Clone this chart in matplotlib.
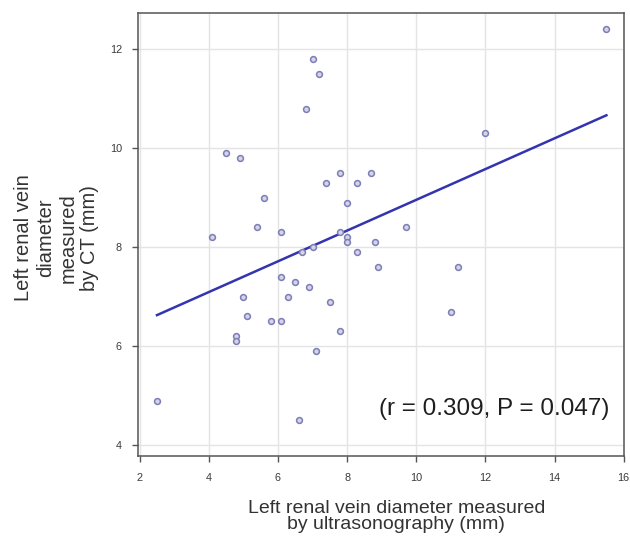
import numpy as np
import matplotlib.pyplot as plt

plt.rcParams['font.family'] = ['Liberation Sans', 'DejaVu Sans']

# Dane (mm)
us_diam = [7.0, 7.2, 6.8, 4.5, 4.9, 7.8, 8.7, 7.4, 8.3, 5.6, 8.0, 5.4, 6.1, 4.1,
           7.8, 8.0, 8.0, 8.8, 8.3, 8.9, 6.7, 7.0, 6.1, 6.5, 6.9, 5.0, 6.3, 5.1,
           7.5, 5.8, 6.1, 4.8, 4.8, 7.8, 7.1, 2.5, 6.6, 15.5, 12.0, 9.7, 11.2, 11.0]
ct_diam = [11.8, 11.5, 10.8, 9.9, 9.8, 9.5, 9.5, 9.3, 9.3, 9.0, 8.9, 8.4, 8.3, 8.2,
           8.3, 8.2, 8.1, 8.1, 7.9, 7.6, 7.9, 8.0, 7.4, 7.3, 7.2, 7.0, 7.0, 6.6,
           6.9, 6.5, 6.5, 6.2, 6.1, 6.3, 5.9, 4.9, 4.5, 12.4, 10.3, 8.4, 7.6, 6.7]
x_ticks = [2, 4, 6, 8, 10, 12, 14, 16]
y_ticks = [4, 6, 8, 10, 12]
stat_text = '(r = 0.309, P = 0.047)'

x = np.array(us_diam)
y = np.array(ct_diam)

fig = plt.figure(figsize=(6.3, 5.41), dpi=100)
ax = fig.add_axes([0.219, 0.157, 0.771, 0.819])

# Linia regresji
slope, intercept = np.polyfit(x, y, 1)
xx = np.array([x.min(), x.max()])
ax.plot(xx, slope * xx + intercept, color='#3434b0', linewidth=1.8, zorder=3)

# Punkty pomiarowe
ax.plot(x, y, linestyle='none', marker='o', markersize=4.2, markerfacecolor='#d4d4e6',
        markeredgecolor='#7d7db8', markeredgewidth=1.1, zorder=4)

ax.set_xlim(1.95, 16.0)
ax.set_ylim(3.78, 12.73)
ax.set_xticks(x_ticks)
ax.set_yticks(y_ticks)
ax.grid(True, color='#e4e4e4', linewidth=1.0)
ax.set_axisbelow(True)
for s in ax.spines.values():
    s.set_color('#555555')
    s.set_linewidth(1.1)
ax.tick_params(axis='both', direction='out', length=4.5, width=1.0, color='#555555',
               labelsize=7.8, labelcolor='#3a3a3a')
ax.tick_params(axis='x', pad=8)
ax.tick_params(axis='y', pad=7)

ax.text(15.58, 4.73, stat_text, ha='right', va='center', fontsize=17.5, color='#1e1e1e')

fig.text(0.629, 0.045, 'Left renal vein diameter measured\nby ultrasonography (mm)',
         ha='center', va='center', fontsize=14, linespacing=0.9, color='#333333')
fig.text(0.09, 0.56, 'Left renal vein\ndiameter\nmeasured\nby CT (mm)',
         ha='center', va='center', rotation=90, fontsize=14.5, linespacing=1.2,
         color='#333333')

plt.savefig('out.png', dpi=100)
plt.close()
